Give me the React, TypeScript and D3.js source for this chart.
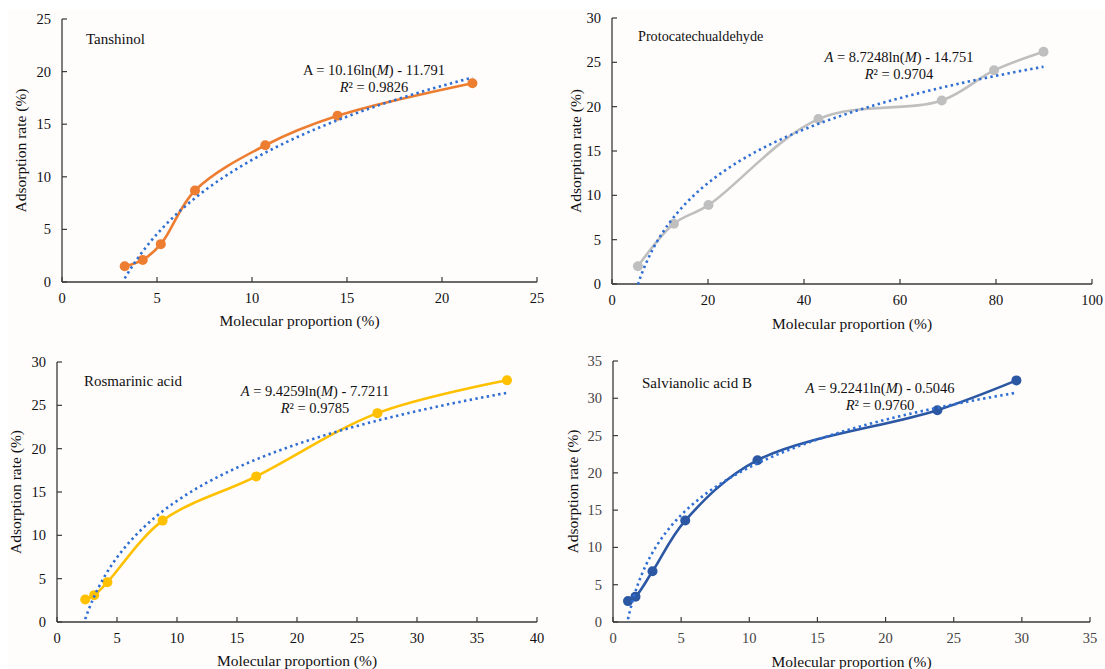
import React from "react";
import * as d3 from "d3";

// ---------- data ----------
const tanshinolX = [3.3, 4.25, 5.2, 7.0, 10.7, 14.5, 21.6];
const tanshinolY = [1.5, 2.1, 3.6, 8.7, 13.0, 15.8, 18.9];

const protoX = [5.4, 12.9, 20.1, 43.0, 68.7, 79.6, 89.9];
const protoY = [2.0, 6.8, 8.9, 18.6, 20.7, 24.1, 26.2];

const rosmX = [2.35, 3.1, 4.2, 8.8, 16.6, 26.7, 37.5];
const rosmY = [2.6, 3.1, 4.6, 11.7, 16.8, 24.1, 27.9];

const salvX = [1.1, 1.65, 2.9, 5.3, 10.6, 23.8, 29.6];
const salvY = [2.8, 3.4, 6.8, 13.6, 21.7, 28.4, 32.4];

const tanshinolXTicks = [0, 5, 10, 15, 20, 25];
const tanshinolYTicks = [0, 5, 10, 15, 20, 25];
const protoXTicks = [0, 20, 40, 60, 80, 100];
const protoYTicks = [0, 5, 10, 15, 20, 25, 30];
const rosmXTicks = [0, 5, 10, 15, 20, 25, 30, 35, 40];
const rosmYTicks = [0, 5, 10, 15, 20, 25, 30];
const salvXTicks = [0, 5, 10, 15, 20, 25, 30, 35];
const salvYTicks = [0, 5, 10, 15, 20, 25, 30, 35];

// trendline coefficients A = a ln(M) + b (as printed)
const tanshinolFit = [10.16, -11.791];
const protoFit = [8.7248, -14.751];
const rosmFit = [9.4259, -7.7211];
const salvFit = [9.2241, -0.5046];

const names = ["Tanshinol", "Protocatechualdehyde", "Rosmarinic acid", "Salvianolic acid B"];
const eqCoef = ["10.16", "8.7248", "9.4259", "9.2241"];
const eqConst = ["11.791", "14.751", "7.7211", "0.5046"];
const r2Text = ["0.9826", "0.9704", "0.9785", "0.9760"];

const FONT = "'Liberation Serif', 'Times New Roman', serif";
const TREND = "#2f6fd3";

type PanelProps = {
  xs: number[];
  ys: number[];
  xTicks: number[];
  yTicks: number[];
  fit: number[];
  color: string;
  name: string;
  coef: string;
  cst: string;
  r2: string;
  italicA: boolean;
  left: number;
  right: number;
  top: number;
  bottom: number;
  nameX: number;
  nameY: number;
  nameSize: number;
  eqX: number;
  eqY: number;
  yTitleX: number;
  xTitleY: number;
  tickColor: string;
};

function Panel(p: PanelProps) {
  const x = d3
    .scaleLinear()
    .domain([p.xTicks[0], p.xTicks[p.xTicks.length - 1]])
    .range([p.left, p.right]);
  const y = d3
    .scaleLinear()
    .domain([p.yTicks[0], p.yTicks[p.yTicks.length - 1]])
    .range([p.bottom, p.top]);

  const pts: [number, number][] = p.xs.map((v, i) => [v, p.ys[i]]);
  const line = d3
    .line<[number, number]>()
    .x((d) => x(d[0]))
    .y((d) => y(d[1]))
    .curve(d3.curveCatmullRom.alpha(0.5));

  const xmin = d3.min(p.xs) as number;
  const xmax = d3.max(p.xs) as number;
  const trendPts: [number, number][] = d3
    .range(0, 201)
    .map((i) => xmin + ((xmax - xmin) * i) / 200)
    .map((m) => [m, p.fit[0] * Math.log(m) + p.fit[1]]);
  const trend = d3
    .line<[number, number]>()
    .x((d) => x(d[0]))
    .y((d) => y(d[1]));

  const axisColor = "#3a3a3a";
  const cx = (p.left + p.right) / 2;
  const cy = (p.top + p.bottom) / 2;

  return (
    <g>
      {/* axes */}
      <line x1={p.left} x2={p.left} y1={p.top} y2={p.bottom} stroke={axisColor} strokeWidth={1.3} />
      <line x1={p.left} x2={p.right} y1={p.bottom} y2={p.bottom} stroke={axisColor} strokeWidth={1.3} />
      {p.xTicks.map((t) => (
        <g key={"xt" + t}>
          <line x1={x(t)} x2={x(t)} y1={p.bottom} y2={p.bottom - 5} stroke={axisColor} strokeWidth={1.2} />
          <text
            x={x(t)}
            y={p.bottom + 21}
            textAnchor="middle"
            fontSize={14.5}
            fill={p.tickColor}
            fontFamily={FONT}
          >
            {t}
          </text>
        </g>
      ))}
      {p.yTicks.map((t) => (
        <g key={"yt" + t}>
          <line x1={p.left} x2={p.left + 5} y1={y(t)} y2={y(t)} stroke={axisColor} strokeWidth={1.2} />
          <text
            x={p.left - 11}
            y={y(t) + 5}
            textAnchor="end"
            fontSize={14.5}
            fill={p.tickColor}
            fontFamily={FONT}
          >
            {t}
          </text>
        </g>
      ))}
      {/* titles */}
      <text
        transform={`translate(${p.yTitleX},${cy}) rotate(-90)`}
        textAnchor="middle"
        fontSize={15.5}
        fontFamily={FONT}
        fill="#111"
      >
        Adsorption rate (%)
      </text>
      <text x={cx} y={p.xTitleY} textAnchor="middle" fontSize={15.5} fontFamily={FONT} fill="#111">
        Molecular proportion (%)
      </text>
      <text x={p.nameX} y={p.nameY} fontSize={p.nameSize} fontFamily={FONT} fill="#111">
        {p.name}
      </text>
      {/* equation */}
      <text x={p.eqX} y={p.eqY} textAnchor="middle" fontSize={14.5} fontFamily={FONT} fill="#111">
        <tspan fontStyle={p.italicA ? "italic" : "normal"}>A</tspan>
        <tspan>{` = ${p.coef}ln(`}</tspan>
        <tspan fontStyle="italic">M</tspan>
        <tspan>{`) - ${p.cst}`}</tspan>
      </text>
      <text x={p.eqX} y={p.eqY + 17} textAnchor="middle" fontSize={14.5} fontFamily={FONT} fill="#111">
        <tspan fontStyle="italic">R</tspan>
        <tspan>{`² = ${p.r2}`}</tspan>
      </text>
      {/* series */}
      <path d={line(pts) || ""} fill="none" stroke={p.color} strokeWidth={2.6} />
      {pts.map((d, i) => (
        <circle key={"pt" + i} cx={x(d[0])} cy={y(d[1])} r={5} fill={p.color} />
      ))}
      <path
        d={trend(trendPts) || ""}
        fill="none"
        stroke={TREND}
        strokeWidth={2.6}
        strokeDasharray="2.4,3.4"
      />
    </g>
  );
}

export default function App() {
  return (
    <svg
      width={1105}
      height={669}
      style={{ position: "absolute", left: 0, top: 0, display: "block", background: "#ffffff" }}
    >
      <rect x={8} y={10} width={1097} height={659} fill="#fffcfc" />
      <Panel
        xs={tanshinolX}
        ys={tanshinolY}
        xTicks={tanshinolXTicks}
        yTicks={tanshinolYTicks}
        fit={tanshinolFit}
        color="#ed7d31"
        name={names[0]}
        coef={eqCoef[0]}
        cst={eqConst[0]}
        r2={r2Text[0]}
        italicA={false}
        left={62}
        right={537}
        top={19}
        bottom={282}
        nameX={86}
        nameY={44}
        nameSize={15}
        eqX={374}
        eqY={75}
        yTitleX={26}
        xTitleY={326}
        tickColor="#111"
      />
      <Panel
        xs={protoX}
        ys={protoY}
        xTicks={protoXTicks}
        yTicks={protoYTicks}
        fit={protoFit}
        color="#bfbfbf"
        name={names[1]}
        coef={eqCoef[1]}
        cst={eqConst[1]}
        r2={r2Text[1]}
        italicA={true}
        left={612}
        right={1092}
        top={18}
        bottom={284}
        nameX={638}
        nameY={41}
        nameSize={14.2}
        eqX={899}
        eqY={62}
        yTitleX={581}
        xTitleY={329}
        tickColor="#111"
      />
      <Panel
        xs={rosmX}
        ys={rosmY}
        xTicks={rosmXTicks}
        yTicks={rosmYTicks}
        fit={rosmFit}
        color="#ffc000"
        name={names[2]}
        coef={eqCoef[2]}
        cst={eqConst[2]}
        r2={r2Text[2]}
        italicA={true}
        left={57}
        right={537}
        top={362}
        bottom={622}
        nameX={84}
        nameY={386}
        nameSize={15}
        eqX={315}
        eqY={396}
        yTitleX={21}
        xTitleY={666}
        tickColor="#111"
      />
      <Panel
        xs={salvX}
        ys={salvY}
        xTicks={salvXTicks}
        yTicks={salvYTicks}
        fit={salvFit}
        color="#2b57a3"
        name={names[3]}
        coef={eqCoef[3]}
        cst={eqConst[3]}
        r2={r2Text[3]}
        italicA={true}
        left={613}
        right={1090}
        top={361}
        bottom={622}
        nameX={642}
        nameY={388}
        nameSize={15}
        eqX={880}
        eqY={393}
        yTitleX={578}
        xTitleY={667}
        tickColor="#444"
      />
    </svg>
  );
}
